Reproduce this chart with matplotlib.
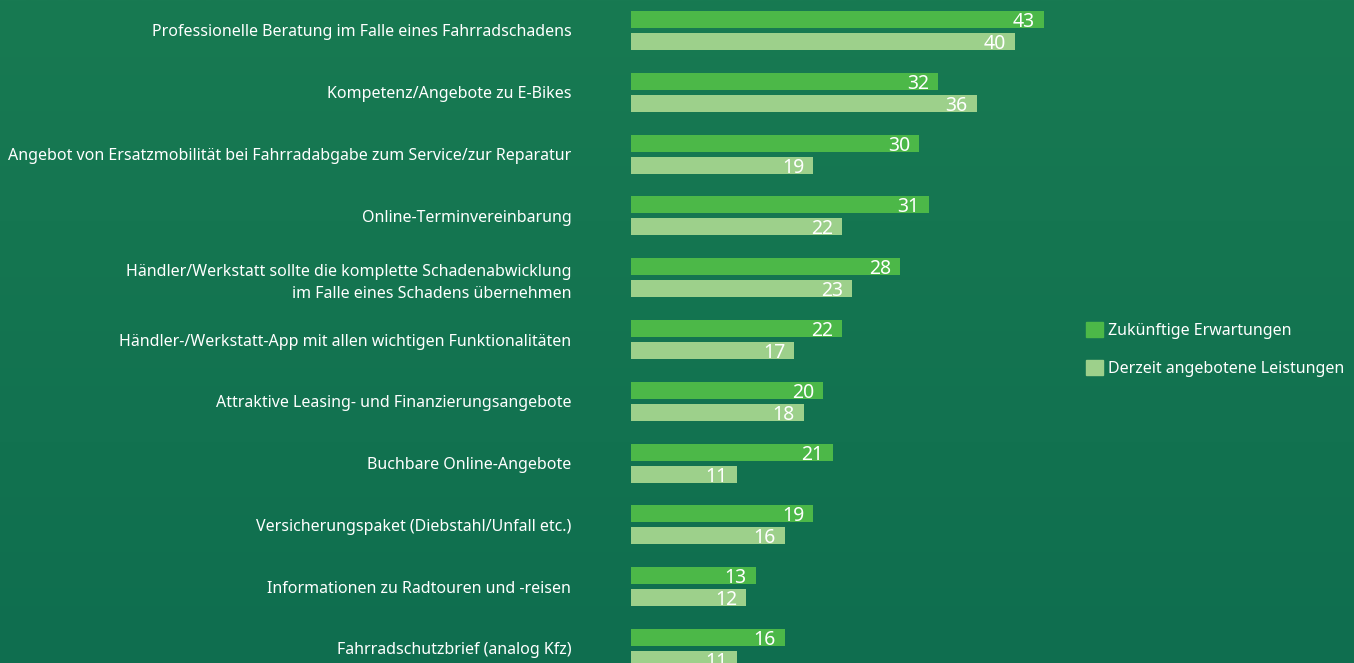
import matplotlib
matplotlib.use("Agg")
import matplotlib.pyplot as plt
import numpy as np
from matplotlib.patches import Patch

plt.rcParams["font.family"] = ["Noto Sans", "DejaVu Sans"]

categories = [
    "Professionelle Beratung im Falle eines Fahrradschadens",
    "Kompetenz/Angebote zu E-Bikes",
    "Angebot von Ersatzmobilität bei Fahrradabgabe zum Service/zur Reparatur",
    "Online-Terminvereinbarung",
    "Händler/Werkstatt sollte die komplette Schadenabwicklung\nim Falle eines Schadens übernehmen",
    "Händler-/Werkstatt-App mit allen wichtigen Funktionalitäten",
    "Attraktive Leasing- und Finanzierungsangebote",
    "Buchbare Online-Angebote",
    "Versicherungspaket (Diebstahl/Unfall etc.)",
    "Informationen zu Radtouren und -reisen",
    "Fahrradschutzbrief (analog Kfz)",
]
zukuenftig = [43, 32, 30, 31, 28, 22, 20, 21, 19, 13, 16]
derzeit = [40, 36, 19, 22, 23, 17, 18, 11, 16, 12, 11]
series_names = ["Zukünftige Erwartungen", "Derzeit angebotene Leistungen"]

DARK = "#4cb848"
LIGHT = "#9dd08b"
W, H = 1354, 663

fig = plt.figure(figsize=(W / 100, H / 100), dpi=100)

# background gradient
bg = fig.add_axes([0, 0, 1, 1], zorder=-10)
top = np.array([0x18, 0x7a, 0x52]) / 255
bot = np.array([0x0f, 0x6e, 0x4f]) / 255
t = np.linspace(0, 1, 256)[:, None]
grad = top * (1 - t) + bot * t
bg.imshow(grad[:, None, :], aspect="auto", extent=[0, 1, 0, 1])
bg.axis("off")

# axes: bars start at x=631 px, 9.6 px per unit
px_unit = 9.6
x0 = 631
ax = fig.add_axes([x0 / W, 0, 50 * px_unit / W, 1])
ax.patch.set_alpha(0)
ax.set_xlim(0, 50)

pitch = 61.8
first_center = 30.5
ax.set_ylim((H - first_center) / pitch, -first_center / pitch)

bar_h = 17 / pitch
off = 11 / pitch
y = np.arange(len(categories))
b1 = ax.barh(y - off, zukuenftig, height=bar_h, color=DARK)
b2 = ax.barh(y + off, derzeit, height=bar_h, color=LIGHT)

for bars, vals in ((b1, zukuenftig), (b2, derzeit)):
    for rect, v in zip(bars, vals):
        ax.text(v - 9 / px_unit, rect.get_y() + rect.get_height() / 2,
                str(v), ha="right", va="center_baseline", color="white", fontsize=14)

ax.set_yticks(y)
ax.set_yticklabels(categories, color="white", fontsize=11.5, linespacing=1.52)
ax.tick_params(axis="y", length=0, pad=43)
ax.set_xticks([])
for s in ax.spines.values():
    s.set_visible(False)

handles = [Patch(color=DARK), Patch(color=LIGHT)]
leg = fig.legend(handles, series_names, loc="upper left",
                 bbox_to_anchor=(1086 / W, 1 - 322 / H), frameon=False,
                 fontsize=11.5, handlelength=1.05, handleheight=1.05,
                 handletextpad=0.3, labelspacing=1.33, borderpad=0,
                 borderaxespad=0)
for txt in leg.get_texts():
    txt.set_color("white")

fig.savefig("out.png", dpi=100)
